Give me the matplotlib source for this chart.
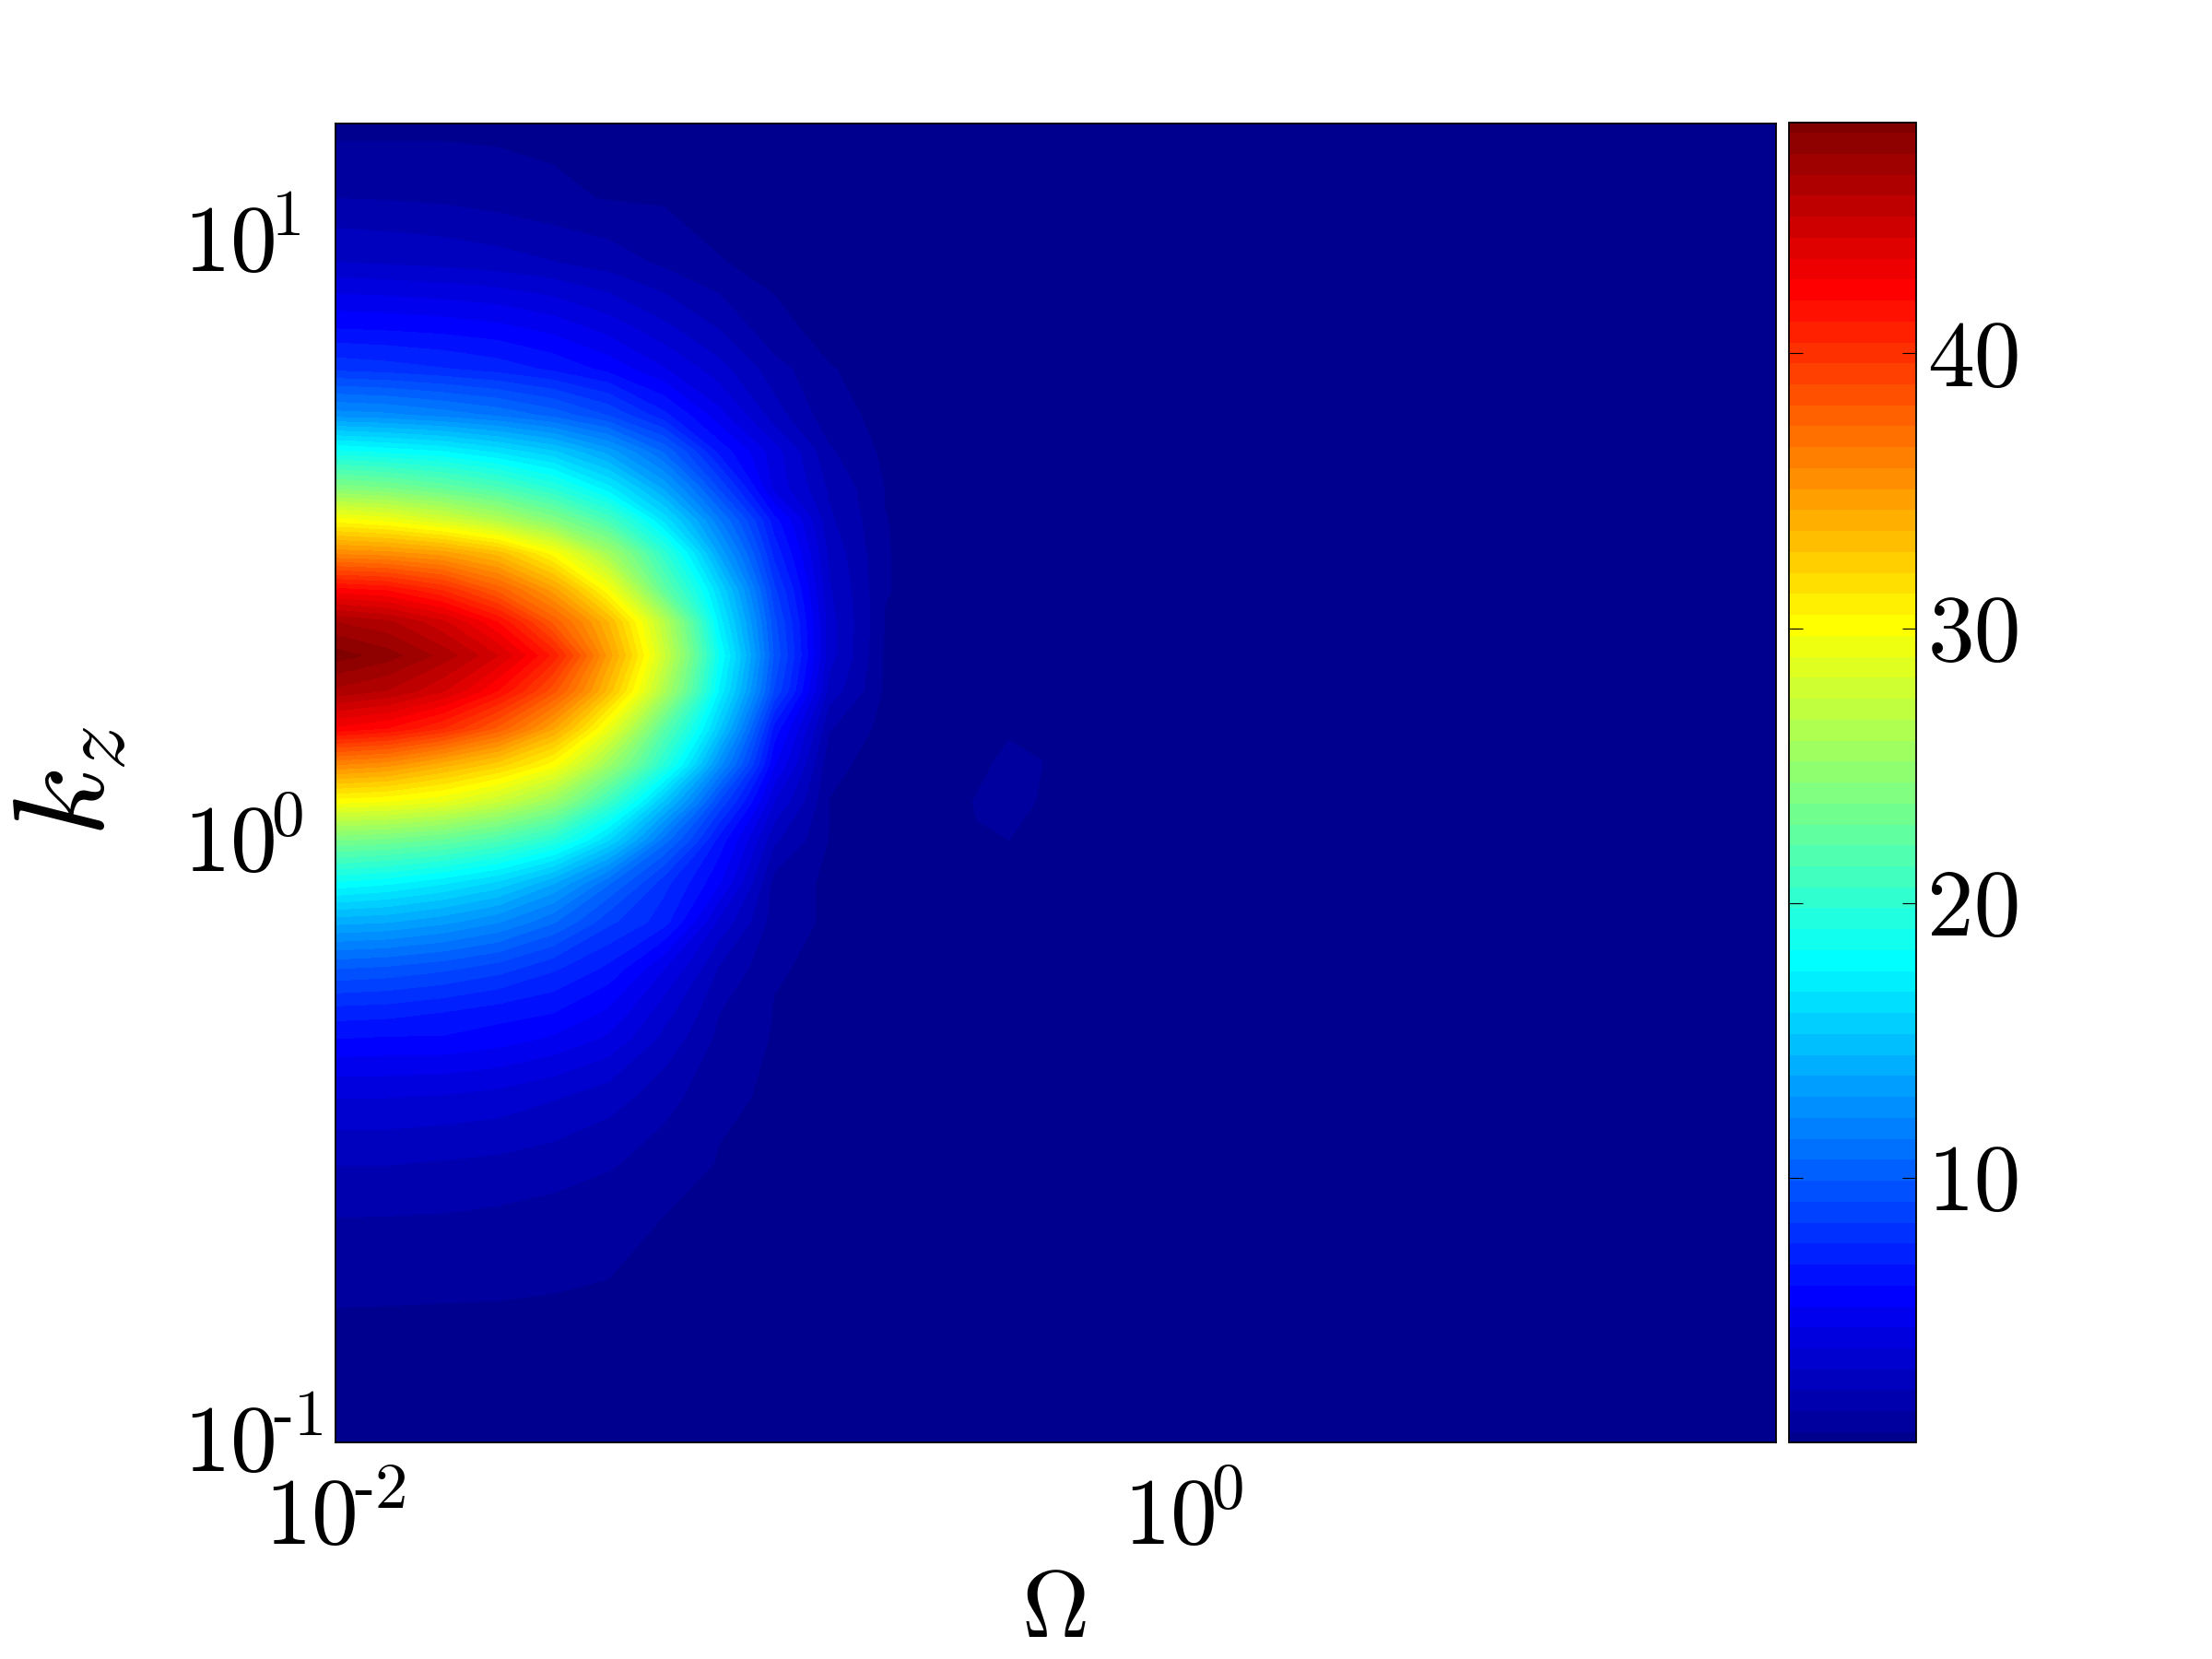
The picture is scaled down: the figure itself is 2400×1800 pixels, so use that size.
import matplotlib
matplotlib.use("Agg")
import matplotlib.pyplot as plt
import numpy as np
from matplotlib.colors import LinearSegmentedColormap, BoundaryNorm
from matplotlib.ticker import NullLocator
from matplotlib.transforms import ScaledTranslation

plt.rcParams['mathtext.fontset'] = 'cm'
plt.rcParams['font.family'] = 'cmr10'
plt.rcParams['axes.formatter.use_mathtext'] = True

omega = [0.01, 0.01323, 0.01787, 0.02414, 0.0326, 0.04402, 0.05943, 0.08022,
         0.1083, 0.1463, 0.1976, 0.2667, 0.3258, 0.3881, 0.4626, 0.5508, 25.0]
kz = [15.8, 14.66, 11.85, 9.25, 7.22, 6.16, 5.16, 4.48, 3.89, 3.44, 3.03, 2.63, 2.33, 2.05,
      1.79, 1.55, 1.35, 1.17, 1.01, 0.855, 0.737, 0.618, 0.518, 0.472, 0.376, 0.292, 0.237,
      0.168, 0.1]
values = [
    [0.62, 0.61, 0.60, 0.60, 0.55, 0.55, 0.50, 0.50, 0.45, 0.45, 0.45, 0.45, 0.45, 0.45, 0.45, 0.45, 0.45],
    [0.75, 0.75, 0.75, 0.70, 0.66, 0.62, 0.58, 0.55, 0.50, 0.45, 0.45, 0.45, 0.45, 0.45, 0.45, 0.45, 0.45],
    [1.50, 1.45, 1.35, 1.15, 0.85, 0.70, 0.64, 0.58, 0.52, 0.50, 0.45, 0.45, 0.45, 0.45, 0.45, 0.45, 0.45],
    [3.05, 2.95, 2.80, 2.60, 2.30, 1.90, 1.35, 0.76, 0.62, 0.55, 0.50, 0.48, 0.45, 0.45, 0.45, 0.45, 0.45],
    [6.00, 5.90, 5.75, 5.50, 5.00, 4.20, 3.20, 2.20, 0.85, 0.58, 0.52, 0.50, 0.48, 0.45, 0.45, 0.45, 0.45],
    [8.15, 7.95, 7.65, 7.25, 6.65, 5.80, 4.60, 3.30, 1.80, 0.76, 0.58, 0.52, 0.50, 0.48, 0.48, 0.46, 0.45],
    [12.55, 12.35, 11.85, 11.25, 10.35, 9.05, 7.05, 4.80, 2.60, 0.95, 0.55, 0.52, 0.50, 0.50, 0.50, 0.46, 0.45],
    [18.5, 18.05, 17.55, 16.55, 15.35, 13.35, 10.55, 6.60, 4.10, 1.60, 0.55, 0.52, 0.50, 0.50, 0.50, 0.46, 0.45],
    [24.2, 23.7, 22.7, 21.5, 19.7, 17.05, 13.55, 9.05, 4.30, 2.10, 0.72, 0.55, 0.55, 0.52, 0.52, 0.46, 0.45],
    [30.1, 29.5, 28.2, 26.5, 24.2, 21.2, 16.55, 11.55, 6.40, 2.40, 0.75, 0.55, 0.55, 0.55, 0.55, 0.48, 0.45],
    [35.7, 35.4, 34.7, 33.2, 30.1, 25.7, 20.1, 13.55, 7.35, 2.80, 0.76, 0.55, 0.55, 0.55, 0.55, 0.48, 0.45],
    [42.3, 41.9, 40.4, 37.9, 34.7, 29.9, 22.5, 16.05, 8.55, 3.10, 0.76, 0.55, 0.55, 0.55, 0.55, 0.48, 0.45],
    [46.5, 45.9, 44.4, 41.9, 37.9, 33.5, 26.7, 17.2, 9.35, 3.30, 0.72, 0.55, 0.55, 0.55, 0.55, 0.48, 0.45],
    [48.4, 47.6, 46.2, 44.2, 40.9, 34.7, 27.7, 18.3, 9.75, 3.30, 0.62, 0.55, 0.55, 0.55, 0.55, 0.48, 0.45],
    [46.3, 45.7, 44.3, 41.9, 38.4, 33.2, 26.2, 17.4, 9.05, 2.70, 0.60, 0.55, 0.55, 0.55, 0.58, 0.48, 0.45],
    [42.5, 41.9, 40.4, 37.9, 34.4, 29.2, 22.2, 15.35, 6.55, 1.55, 0.45, 0.52, 0.58, 0.68, 0.70, 0.48, 0.45],
    [35.9, 35.4, 33.9, 32.4, 30.1, 25.4, 19.7, 12.55, 5.40, 0.90, 0.45, 0.55, 0.65, 0.85, 0.745, 0.48, 0.45],
    [30.0, 29.7, 29.0, 27.5, 25.2, 20.7, 15.05, 9.05, 3.80, 0.72, 0.50, 0.60, 0.76, 0.90, 0.70, 0.48, 0.45],
    [23.7, 23.4, 22.7, 21.5, 19.7, 16.05, 11.05, 6.55, 2.40, 0.70, 0.50, 0.60, 0.72, 0.74, 0.64, 0.48, 0.45],
    [18.1, 17.65, 16.85, 15.75, 13.75, 10.75, 7.85, 5.40, 1.20, 0.55, 0.50, 0.55, 0.55, 0.55, 0.55, 0.48, 0.45],
    [13.95, 13.75, 13.15, 12.25, 10.75, 8.55, 7.15, 3.60, 1.10, 0.60, 0.52, 0.52, 0.52, 0.52, 0.52, 0.48, 0.45],
    [9.95, 9.75, 9.35, 8.75, 7.75, 6.65, 4.60, 2.20, 0.80, 0.58, 0.50, 0.50, 0.50, 0.50, 0.50, 0.48, 0.45],
    [7.15, 7.05, 6.75, 6.35, 6.05, 5.10, 3.30, 1.50, 0.70, 0.55, 0.50, 0.48, 0.48, 0.48, 0.48, 0.46, 0.45],
    [6.10, 6.00, 6.00, 5.70, 5.20, 4.40, 2.80, 1.30, 0.67, 0.52, 0.48, 0.48, 0.48, 0.48, 0.48, 0.46, 0.45],
    [3.80, 3.80, 3.70, 3.50, 3.10, 2.60, 1.80, 0.85, 0.65, 0.50, 0.48, 0.45, 0.45, 0.45, 0.45, 0.45, 0.45],
    [2.30, 2.30, 2.20, 2.10, 1.90, 1.60, 1.10, 0.70, 0.58, 0.50, 0.45, 0.45, 0.45, 0.45, 0.45, 0.45, 0.45],
    [1.50, 1.48, 1.45, 1.35, 1.20, 1.00, 0.73, 0.62, 0.52, 0.48, 0.45, 0.45, 0.45, 0.45, 0.45, 0.45, 0.45],
    [0.74, 0.73, 0.71, 0.70, 0.67, 0.64, 0.60, 0.55, 0.50, 0.45, 0.45, 0.45, 0.45, 0.45, 0.45, 0.45, 0.45],
    [0.50, 0.50, 0.50, 0.48, 0.48, 0.48, 0.45, 0.45, 0.45, 0.45, 0.45, 0.45, 0.45, 0.45, 0.45, 0.45, 0.45],
]
x_ticks = [0.01, 1.0]
x_tick_labels = ['$10^{\\!\u20102}$', '$10^{\\!0}$']
y_ticks = [0.1, 1.0, 10.0]
y_tick_labels = ['$10^{\\!\u20101}$', '$10^{\\!0}$', '$10^{\\!1}$']
cbar_ticks = [10, 20, 30, 40]
cbar_tick_labels = ['10', '20', '30', '40']
v_min, v_max = 0.37, 48.4
first_edge, band_step = 0.74, 0.7627
x_limits = (0.01, 25.0)
y_limits = (0.1, 15.8)

W, H = 2400, 1800
DPI = 100
FS = 73
def rect(l, t, r, b):
    return [l / W, 1 - b / H, (r - l) / W, (b - t) / H]

jet64 = LinearSegmentedColormap.from_list('matlab_jet', [
    (0.0, (0, 0, 0.5625)), (7 / 63, (0, 0, 1)), (23 / 63, (0, 1, 1)),
    (39 / 63, (1, 1, 0)), (55 / 63, (1, 0, 0)), (1.0, (0.5, 0, 0))], N=64)

edges = first_edge + band_step * np.arange(63)
levels = np.concatenate(([v_min], edges, [v_max]))
norm = BoundaryNorm(levels, 64)

fig = plt.figure(figsize=(W / DPI, H / DPI), dpi=DPI, facecolor='white')
ax = fig.add_axes(rect(364, 134, 1927, 1565))
cs = ax.contourf(omega, kz, values, levels=levels, cmap=jet64, norm=norm)
ax.set_xscale('log')
ax.set_yscale('log')
ax.set_xlim(*x_limits)
ax.set_ylim(*y_limits)
ax.set_xticks(x_ticks, x_tick_labels)
ax.set_yticks(y_ticks, y_tick_labels)
ax.xaxis.set_minor_locator(NullLocator())
ax.yaxis.set_minor_locator(NullLocator())
ax.tick_params(axis='x', length=0, labelsize=FS, pad=27)
ax.tick_params(axis='y', length=0, labelsize=FS, pad=119)
down = ScaledTranslation(0, -32 / DPI, fig.dpi_scale_trans)
for lab in ax.get_yticklabels():
    lab.set_ha('left')
    lab.set_va('baseline')
    lab.set_transform(lab.get_transform() + down)
for s in ax.spines.values():
    s.set_linewidth(1.3)

cax = fig.add_axes(rect(1941, 133, 2079, 1565))
cb = fig.colorbar(cs, cax=cax, ticks=cbar_ticks, spacing='proportional')
cb.set_ticklabels(cbar_tick_labels)
cb.ax.yaxis.set_minor_locator(NullLocator())
cax.tick_params(axis='y', direction='in', length=10.8, width=0.8, left=True, right=True,
                labelsize=FS, pad=9)
cb.outline.set_linewidth(1.3)

fig.text(1143 / W, 1 - 1776 / H, r'$\Omega$', fontsize=FS, ha='center', va='baseline')
fig.text(14 / W, 1 - 848 / H, r'$k_z$', fontsize=101, rotation=90, ha='left', va='center')

fig.savefig('out.png', dpi=DPI)
